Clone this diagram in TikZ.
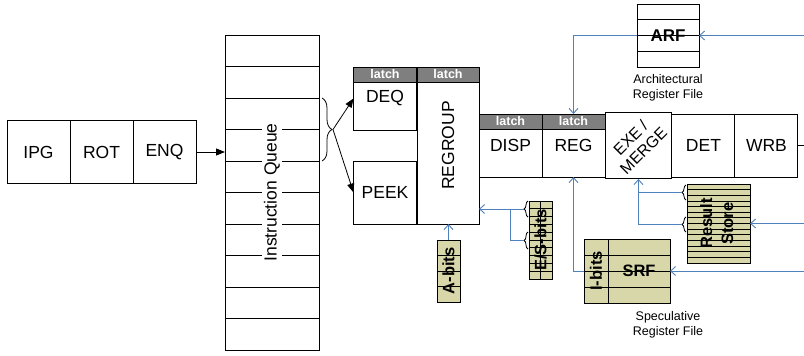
\documentclass[tikz,border=0pt]{standalone}
\usepackage{fontspec}
\setmainfont{Liberation Sans}
\usetikzlibrary{positioning, arrows.meta, calc, decorations.pathreplacing}
\definecolor{latchgray}{HTML}{7F7F7F}
\definecolor{bitkhaki}{HTML}{D7D7AA}
\definecolor{busblue}{HTML}{4F81BD}

\begin{document}
\begin{tikzpicture}[
      x=1pt, y=-1pt,
      every node/.style={inner sep=0pt, outer sep=0pt},
      stage/.style={draw, line width=1pt, minimum width=63pt, minimum height=63pt,
        font=\fontsize{17.5}{20}\selectfont},
      latchbar/.style={draw, line width=1pt, fill=latchgray, text=white, anchor=north,
        minimum width=63pt, minimum height=15pt, font=\bfseries\fontsize{12.5}{14}\selectfont},
      qslot/.style={draw, line width=1pt, minimum width=94pt, minimum height=31.5pt},
      regfile/.style={draw, line width=1pt, fill=bitkhaki, font=\bfseries\fontsize{16.5}{21}\selectfont},
      filelbl/.style={align=center, font=\fontsize{12.5}{15}\selectfont},
      rowline/.style={line width=1pt},
      flow/.style={line width=0.8pt, -{Triangle[length=9pt, width=7pt]}},
      bus/.style={draw=busblue, line width=0.9pt, -{Straight Barb[length=5pt, width=9pt]}},
      busline/.style={draw=busblue, line width=0.9pt},
      tapbrace/.style={decorate, decoration={brace, amplitude=#1}, line width=0.8pt},
    ]
    \useasboundingbox (0,0) rectangle (804,356);

    % front end
    \node[stage] (IPG) at (38.5,152) {IPG};
    \node[stage, right=0pt of IPG] (ROT) {ROT};
    \node[stage, right=0pt of ROT] (ENQ) {ENQ};

    % instruction queue
    \foreach \i in {1,...,10}
      \node[qslot] (q\i) at (272,{35+31.5*(\i-0.5)}) {};
    \node[fill=white, inner sep=2.5pt, font=\fontsize{17.5}{20}\selectfont] (iqlbl) at (272,192.5)
      {\rotatebox{90}{Instruction Queue}};
    \draw[tapbrace=10pt] ($(q3.north east)+(3,0)$) -- ($(q4.south east)+(3,0)$);
    \coordinate (qtap) at ($(q3.south east)+(14,0)$);
    \draw[flow] (ENQ.east) -- (ENQ.east -| q4.west);

    % dequeue / regroup
    \node[stage] (DEQ) at (385,98.5) {DEQ};
    \node[stage] (PEEK) at (385,192.5) {PEEK};
    \node[stage, minimum width=62pt, minimum height=157pt] (REGROUP) at (448,145.5)
      {\rotatebox{90}{REGROUP}};
    \node[latchbar] (lDEQ) at (DEQ.north) {latch};
    \node[latchbar, minimum width=62pt] (lREGROUP) at (REGROUP.north) {latch};
    \draw[flow] (qtap) -- (DEQ.west);
    \draw[flow] (qtap) -- (PEEK.west);

    % back end
    \node[stage] (DISP) at (510.5,145.5) {DISP};
    \node[stage, right=0pt of DISP] (REG) {REG};
    \node[stage, right=0pt of REG, font=\fontsize{16}{18}\selectfont] (EXE)
      {\rotatebox{45}{\begin{tabular}{@{}c@{}}EXE /\\MERGE\end{tabular}}};
    \node[stage, right=0pt of EXE] (DET) {DET};
    \node[stage, right=0pt of DET] (WRB) {WRB};
    \node[latchbar] (lDISP) at (DISP.north) {latch};
    \node[latchbar] (lREG) at (REG.north) {latch};
    \coordinate (wrbout) at (804,145.5);
    \draw[line width=1pt] (WRB.east) -- (wrbout);

    % architectural register file
    \node[regfile, fill=white, font=\bfseries\fontsize{17}{20}\selectfont,
      minimum width=62pt, minimum height=63pt] (ARF) at (668,35.5) {ARF};
    \foreach \f in {0.25,0.5,0.75}
      \draw[rowline] ($(ARF.north west)!\f!(ARF.south west)$) -- ($(ARF.north east)!\f!(ARF.south east)$);
    \node[filelbl] (ARFlbl) at (668,88) {Architectural\\Register File};

    % speculative register file
    \node[regfile, minimum width=24pt, minimum height=64pt] (Ibits) at (596,271)
      {\rotatebox{90}{I-bits}};
    \node[regfile, minimum width=62pt, minimum height=64pt, right=0pt of Ibits] (SRF) {SRF};
    \foreach \f in {0.25,0.5,0.75}
      \draw[rowline] ($(Ibits.north west)!\f!(Ibits.south west)$) -- ($(SRF.north east)!\f!(SRF.south east)$);
    \node[filelbl] (SRFlbl) at (668,325) {Speculative\\Register File};

    % bit tables
    \node[regfile, minimum width=23pt, minimum height=62pt] (Abits) at (448.5,271)
      {\rotatebox{90}{A-bits}};
    \foreach \f in {0.25,0.5,0.75}
      \draw[rowline] ($(Abits.north west)!\f!(Abits.south west)$) -- ($(Abits.north east)!\f!(Abits.south east)$);

    \node[regfile, minimum width=23pt, minimum height=78pt] (ESbits) at (540.5,240)
      {\rotatebox{90}{E/S-bits}};
    \foreach \k [evaluate=\k as \f using \k/10] in {1,...,9}
      \draw[line width=0.8pt] ($(ESbits.north west)!\f!(ESbits.south west)$) -- ($(ESbits.north east)!\f!(ESbits.south east)$);
    \draw[line width=0.8pt] (ESbits.north) -- (ESbits.south);

    \node[regfile, minimum width=63pt, minimum height=79pt] (RS) at (718.5,223.5)
      {\rotatebox{90}{\begin{tabular}{@{}c@{}}Result\\Store\end{tabular}}};
    \foreach \k [evaluate=\k as \f using \k/14] in {1,...,13}
      \draw[line width=0.8pt] ($(RS.north west)!\f!(RS.south west)$) -- ($(RS.north east)!\f!(RS.south east)$);

    % taps
    \draw[tapbrace=4pt] ($(ESbits.north west)+(-1,16)$) -- ($(ESbits.north west)+(-1,0)$);
    \draw[tapbrace=4pt] ($(ESbits.north west)+(-1,48)$) -- ($(ESbits.north west)+(-1,31)$);
    \coordinate (esTapA) at ($(ESbits.north west)+(-5,8)$);
    \coordinate (esTapB) at ($(ESbits.north west)+(-5,39.5)$);
    \draw[tapbrace=4pt] ($(RS.north west)+(-1,16)$) -- ($(RS.north west)+(-1,1)$);
    \draw[tapbrace=4pt] ($(RS.north west)+(-1,48)$) -- ($(RS.north west)+(-1,33)$);
    \coordinate (rsTapA) at ($(RS.north west)+(-5,8.5)$);
    \coordinate (rsTapB) at ($(RS.north west)+(-5,40.5)$);

    % buses
    \coordinate (arfin) at (804,35.5);
    \coordinate (rsin) at (804,223.5);
    \coordinate (srfin) at (804,271);
    \draw[bus] (arfin) -- (ARF.east);
    \draw[bus] (ARF.west) -| (lREG.north);
    \draw[bus] (srfin) -- (SRF.east);
    \draw[bus] (Ibits.west) -| (REG.south);
    \draw[bus] (rsin) -- (RS.east);
    \draw[busline] (rsTapA) -- (rsTapA -| EXE.south);
    \draw[bus] (rsTapB) -| (EXE.south);
    \draw[bus] (esTapA) -- (esTapA -| REGROUP.east);
    \draw[busline] (esTapB) -| (esTapA -| DISP.center);
    \draw[bus] (Abits.north) -- (Abits.north |- REGROUP.south);
  \end{tikzpicture}
\end{document}
